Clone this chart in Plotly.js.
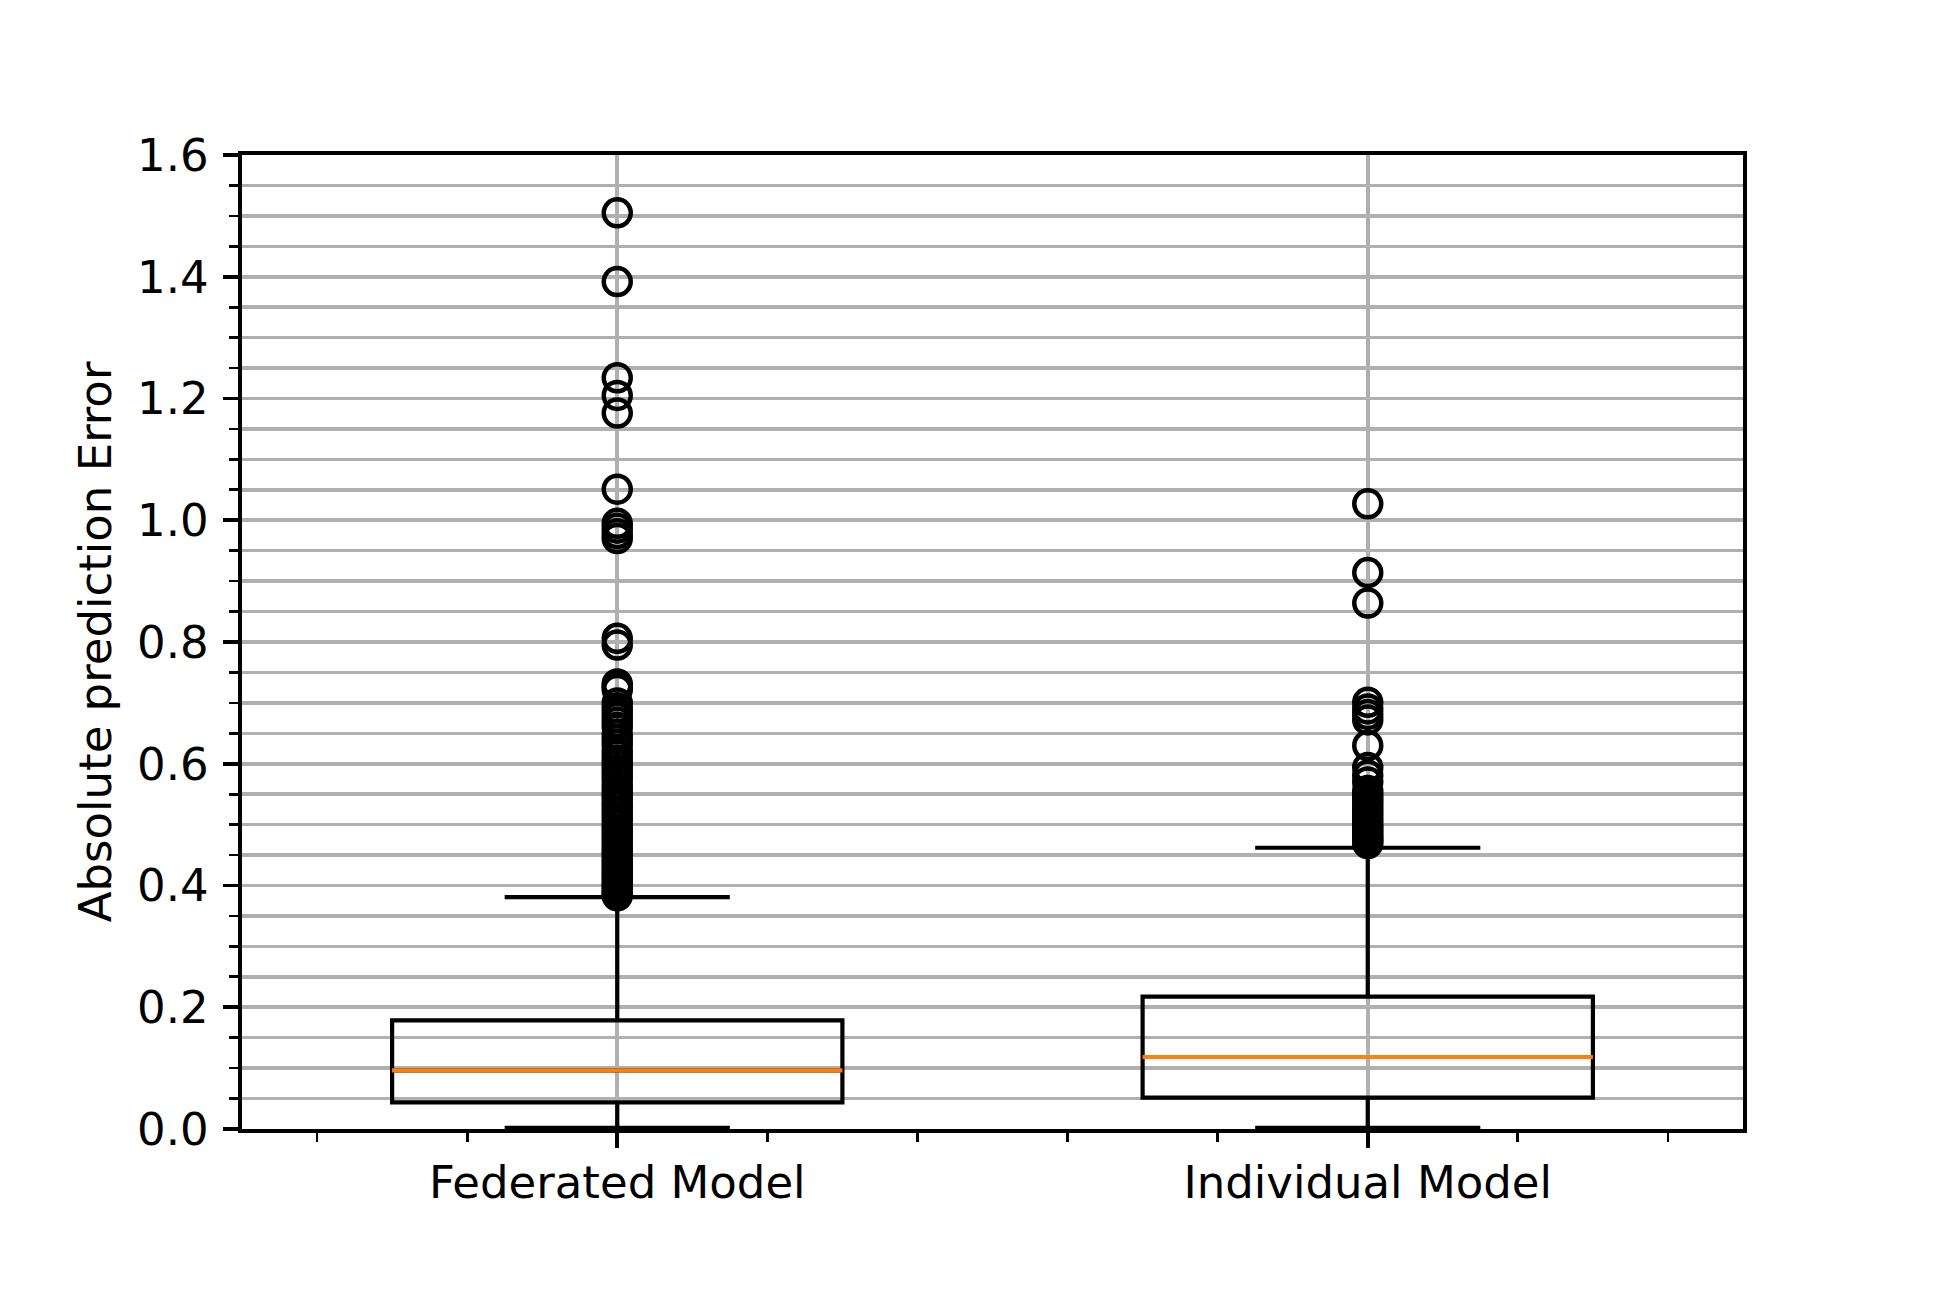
<!DOCTYPE html>
<html><head><meta charset="utf-8">
<script src="https://cdn.plot.ly/plotly-3.0.1.min.js"></script>
<style>html,body{margin:0;padding:0;background:#fff}#chart{width:1937px;height:1292px}</style>
</head><body><div id="chart"></div>
<script>
const categories = ['Federated Model', 'Individual Model'];
const positions = [1, 2];
const q1 = [0.0439, 0.0515];
const medians = [0.0964, 0.1183];
const q3 = [0.1786, 0.2173];
const lowerWhisker = [0.002, 0.002];
const upperWhisker = [0.381, 0.462];
const federatedOutliers = [1.505, 1.392, 1.234, 1.205, 1.176, 1.051, 0.995, 0.987, 0.978, 0.970,
  0.806, 0.795, 0.731, 0.727, 0.722, 0.700, 0.692, 0.684, 0.676, 0.668, 0.660, 0.648, 0.640,
  0.632, 0.622, 0.614, 0.606, 0.598, 0.590, 0.583, 0.575, 0.566, 0.558, 0.551, 0.544, 0.536,
  0.529, 0.521, 0.514, 0.507, 0.500, 0.493, 0.487, 0.480, 0.473, 0.466, 0.459, 0.453, 0.447,
  0.441, 0.435, 0.429, 0.423, 0.417, 0.411, 0.405, 0.400, 0.395, 0.390, 0.386, 0.383];
const individualOutliers = [1.027, 0.914, 0.864, 0.701, 0.690, 0.681, 0.672, 0.630, 0.594,
  0.581, 0.570, 0.556, 0.549, 0.543, 0.537, 0.531, 0.525, 0.519, 0.513, 0.507, 0.501, 0.496,
  0.491, 0.486, 0.481, 0.477, 0.473, 0.469];
const outliers = [federatedOutliers, individualOutliers];
const yTitle = 'Absolute prediction Error';

const boxWidth = 0.6;
const FONT = 'DejaVu Sans, sans-serif';
const FS = 45;
const traces = [];
positions.forEach((p, i) => {
  traces.push({
    type: 'box', x: [p], q1: [q1[i]], median: [medians[i]], q3: [q3[i]],
    lowerfence: [lowerWhisker[i]], upperfence: [upperWhisker[i]],
    width: boxWidth, whiskerwidth: 0.5, boxpoints: false,
    fillcolor: 'rgba(0,0,0,0)', line: {color: '#000', width: 4.2},
    showlegend: false, hoverinfo: 'skip'
  });
});
positions.forEach((p, i) => {
  traces.push({
    type: 'scatter', mode: 'lines', x: [p - boxWidth / 2, p + boxWidth / 2], y: [medians[i], medians[i]],
    line: {color: '#ff7f0e', width: 4.2}, showlegend: false, hoverinfo: 'skip'
  });
  traces.push({
    type: 'scatter', mode: 'markers', x: outliers[i].map(() => p), y: outliers[i],
    marker: {symbol: 'circle-open', size: 27, color: '#000', line: {width: 4.5, color: '#000'}},
    showlegend: false, hoverinfo: 'skip'
  });
});

const layout = {
  width: 1937, height: 1292,
  paper_bgcolor: '#fff', plot_bgcolor: '#fff',
  margin: {l: 242, r: 194, t: 155, b: 163, pad: 0},
  boxmode: 'overlay',
  showlegend: false,
  font: {family: FONT, size: FS, color: '#000'},
  xaxis: {
    range: [0.5, 2.5], tickmode: 'array', tickvals: positions, ticktext: categories,
    showline: true, linecolor: '#000', linewidth: 3.6, mirror: true,
    ticks: 'outside', ticklen: 15.7, tickwidth: 3.6, tickcolor: '#000',
    showgrid: true, gridcolor: '#b0b0b0', gridwidth: 3.6, zeroline: false,
    ticklabelstandoff: -4,
    minor: {tick0: 0, dtick: 0.2, ticks: 'outside', ticklen: 9, tickwidth: 2.7, tickcolor: '#000', showgrid: false},
    tickfont: {family: FONT, size: FS, color: '#000'}
  },
  yaxis: {
    range: [0, 1.6], tick0: 0, dtick: 0.2, tickformat: '.1f',
    showline: true, linecolor: '#000', linewidth: 3.6, mirror: true,
    ticks: 'outside', ticklen: 15.7, tickwidth: 3.6, tickcolor: '#000',
    showgrid: true, gridcolor: '#b0b0b0', gridwidth: 3.6, zeroline: false,
    ticklabelstandoff: 5,
    minor: {tick0: 0, dtick: 0.05, ticks: 'outside', ticklen: 9, tickwidth: 2.7, tickcolor: '#000',
      showgrid: true, gridcolor: '#b0b0b0', gridwidth: 3.6},
    tickfont: {family: FONT, size: FS, color: '#000'},
    title: {text: yTitle, font: {family: FONT, size: FS, color: '#000'}, standoff: 12}
  }
};
Plotly.newPlot('chart', traces, layout, {displayModeBar: false, staticPlot: true});
</script></body></html>
